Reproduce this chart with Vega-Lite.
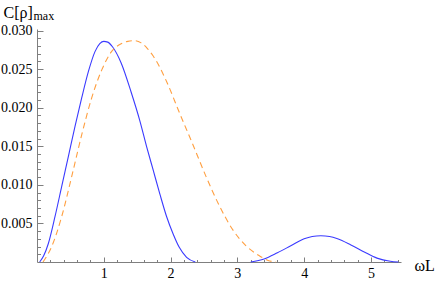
{
  "$schema": "https://vega.github.io/schema/vega-lite/v6.json",
  "autosize": {"type": "none"},
  "padding": {"left": 37, "top": 29, "right": 40, "bottom": 21},
  "width": 364,
  "height": 233,
  "background": "white",
  "config": {
    "view": {"stroke": null},
    "font": "Liberation Serif"
  },
  "data": {
    "values": [
      {"x": 0.04, "y": 0.0, "s": "a", "seg": 1},
      {"x": 0.1, "y": 0.0008, "s": "a", "seg": 1},
      {"x": 0.17, "y": 0.0024, "s": "a", "seg": 1},
      {"x": 0.27, "y": 0.0059, "s": "a", "seg": 1},
      {"x": 0.37, "y": 0.0098, "s": "a", "seg": 1},
      {"x": 0.47, "y": 0.0137, "s": "a", "seg": 1},
      {"x": 0.57, "y": 0.0176, "s": "a", "seg": 1},
      {"x": 0.67, "y": 0.0213, "s": "a", "seg": 1},
      {"x": 0.77, "y": 0.0247, "s": "a", "seg": 1},
      {"x": 0.87, "y": 0.0273, "s": "a", "seg": 1},
      {"x": 0.94, "y": 0.0283, "s": "a", "seg": 1},
      {"x": 1.0, "y": 0.0286, "s": "a", "seg": 1},
      {"x": 1.06, "y": 0.0285, "s": "a", "seg": 1},
      {"x": 1.13, "y": 0.0279, "s": "a", "seg": 1},
      {"x": 1.26, "y": 0.0258, "s": "a", "seg": 1},
      {"x": 1.41, "y": 0.0220, "s": "a", "seg": 1},
      {"x": 1.54, "y": 0.0183, "s": "a", "seg": 1},
      {"x": 1.64, "y": 0.0150, "s": "a", "seg": 1},
      {"x": 1.74, "y": 0.0119, "s": "a", "seg": 1},
      {"x": 1.84, "y": 0.0088, "s": "a", "seg": 1},
      {"x": 1.94, "y": 0.0059, "s": "a", "seg": 1},
      {"x": 2.04, "y": 0.0036, "s": "a", "seg": 1},
      {"x": 2.13, "y": 0.0019, "s": "a", "seg": 1},
      {"x": 2.24, "y": 0.0006, "s": "a", "seg": 1},
      {"x": 2.37, "y": 0.0, "s": "a", "seg": 1},
      {"x": 3.2, "y": 0.0, "s": "a", "seg": 2},
      {"x": 3.4, "y": 0.0004, "s": "a", "seg": 2},
      {"x": 3.6, "y": 0.0012, "s": "a", "seg": 2},
      {"x": 3.8, "y": 0.0021, "s": "a", "seg": 2},
      {"x": 4.0, "y": 0.0030, "s": "a", "seg": 2},
      {"x": 4.12, "y": 0.0033, "s": "a", "seg": 2},
      {"x": 4.25, "y": 0.0034, "s": "a", "seg": 2},
      {"x": 4.38, "y": 0.0033, "s": "a", "seg": 2},
      {"x": 4.5, "y": 0.0030, "s": "a", "seg": 2},
      {"x": 4.7, "y": 0.0022, "s": "a", "seg": 2},
      {"x": 4.9, "y": 0.0013, "s": "a", "seg": 2},
      {"x": 5.09, "y": 0.0005, "s": "a", "seg": 2},
      {"x": 5.29, "y": 0.0001, "s": "a", "seg": 2},
      {"x": 5.41, "y": 0.0, "s": "a", "seg": 2},
      {"x": 0.09, "y": 0.0, "s": "b", "seg": 3},
      {"x": 0.15, "y": 0.0008, "s": "b", "seg": 3},
      {"x": 0.22, "y": 0.002, "s": "b", "seg": 3},
      {"x": 0.37, "y": 0.0059, "s": "b", "seg": 3},
      {"x": 0.52, "y": 0.0111, "s": "b", "seg": 3},
      {"x": 0.67, "y": 0.0165, "s": "b", "seg": 3},
      {"x": 0.82, "y": 0.0213, "s": "b", "seg": 3},
      {"x": 0.97, "y": 0.0249, "s": "b", "seg": 3},
      {"x": 1.11, "y": 0.0272, "s": "b", "seg": 3},
      {"x": 1.26, "y": 0.0283, "s": "b", "seg": 3},
      {"x": 1.36, "y": 0.0286, "s": "b", "seg": 3},
      {"x": 1.46, "y": 0.0287, "s": "b", "seg": 3},
      {"x": 1.56, "y": 0.0284, "s": "b", "seg": 3},
      {"x": 1.65, "y": 0.0277, "s": "b", "seg": 3},
      {"x": 1.74, "y": 0.0267, "s": "b", "seg": 3},
      {"x": 1.94, "y": 0.0234, "s": "b", "seg": 3},
      {"x": 2.13, "y": 0.0194, "s": "b", "seg": 3},
      {"x": 2.33, "y": 0.0153, "s": "b", "seg": 3},
      {"x": 2.53, "y": 0.0111, "s": "b", "seg": 3},
      {"x": 2.73, "y": 0.0073, "s": "b", "seg": 3},
      {"x": 2.93, "y": 0.0042, "s": "b", "seg": 3},
      {"x": 3.13, "y": 0.0021, "s": "b", "seg": 3},
      {"x": 3.33, "y": 0.0008, "s": "b", "seg": 3},
      {"x": 3.46, "y": 0.0002, "s": "b", "seg": 3},
      {"x": 3.58, "y": 0.0, "s": "b", "seg": 3}
    ]
  },
  "encoding": {
    "x": {
      "field": "x",
      "type": "quantitative",
      "scale": {"domain": [0, 5.45], "nice": false, "zero": false},
      "axis": {
        "title": "ωL",
        "titleFont": "Liberation Serif",
        "titleFontSize": 16,
        "titleFontWeight": "normal",
        "titleColor": "black",
        "titleX": 377,
        "titleY": 8,
        "titleAlign": "left",
        "titleBaseline": "alphabetic",
        "values": [0.2, 0.4, 0.6, 0.8, 1, 1.2, 1.4, 1.6, 1.8, 2, 2.2, 2.4, 2.6, 2.8, 3, 3.2, 3.4, 3.6, 3.8, 4, 4.2, 4.4, 4.6, 4.8, 5, 5.2, 5.4],
        "labelExpr": "abs(datum.value - round(datum.value)) < 0.001 ? format(datum.value, 'd') : ''",
        "labelFont": "Liberation Serif",
        "labelFontSize": 14,
        "labelColor": "black",
        "labelPadding": 9,
        "labelOverlap": false,
        "labelFlush": false,
        "domainColor": "#7f7f7f",
        "tickColor": "#7f7f7f",
        "tickSize": {"condition": {"test": "abs(datum.value - round(datum.value)) < 0.001", "value": -5}, "value": -2.5},
        "grid": false
      }
    },
    "detail": {"field": "seg", "type": "nominal"}
  },
  "layer": [
    {
      "transform": [{"filter": "datum.s == 'a'"}],
      "mark": {"type": "line", "strokeWidth": 1.1, "interpolate": "monotone", "color": "#3a3aff"},
      "encoding": {
        "y": {
          "field": "y",
          "type": "quantitative",
          "scale": {"domain": [0, 0.0302], "nice": false, "zero": false},
          "axis": {
            "orient": "left",
            "title": "C[ρ]",
            "titleFont": "Liberation Serif",
            "titleFontSize": 16,
            "titleFontWeight": "normal",
            "titleColor": "black",
            "titleAngle": 0,
            "titleX": -34,
            "titleY": -12,
            "titleAlign": "left",
            "titleBaseline": "alphabetic",
            "values": [0.001, 0.002, 0.003, 0.004, 0.005, 0.006, 0.007, 0.008, 0.009, 0.01, 0.011, 0.012, 0.013, 0.014, 0.015, 0.016, 0.017, 0.018, 0.019, 0.02, 0.021, 0.022, 0.023, 0.024, 0.025, 0.026, 0.027, 0.028, 0.029, 0.03],
            "labelExpr": "round(datum.value * 1000) % 5 == 0 ? format(datum.value, '.3f') : ''",
            "labelFont": "Liberation Serif",
            "labelFontSize": 14,
            "labelColor": "black",
            "labelPadding": 11,
            "labelOverlap": false,
            "labelFlush": false,
            "domainColor": "#7f7f7f",
            "tickColor": "#7f7f7f",
            "tickSize": {"condition": {"test": "round(datum.value * 1000) % 5 == 0", "value": -6}, "value": -3.5},
            "grid": false
          }
        }
      }
    },
    {
      "transform": [{"filter": "datum.s == 'b'"}],
      "mark": {"type": "line", "strokeWidth": 1.1, "interpolate": "monotone", "color": "#ff9f40", "strokeDash": [6, 4]},
      "encoding": {
        "y": {
          "field": "y",
          "type": "quantitative",
          "axis": {
            "orient": "left",
            "title": "max",
            "titleFont": "Liberation Serif",
            "titleFontSize": 12,
            "titleFontWeight": "normal",
            "titleColor": "black",
            "titleAngle": 0,
            "titleX": -4,
            "titleY": -10,
            "titleAlign": "left",
            "titleBaseline": "alphabetic",
            "domain": false,
            "ticks": false,
            "labels": false,
            "grid": false
          }
        }
      }
    }
  ],
  "resolve": {"axis": {"y": "independent"}}
}
